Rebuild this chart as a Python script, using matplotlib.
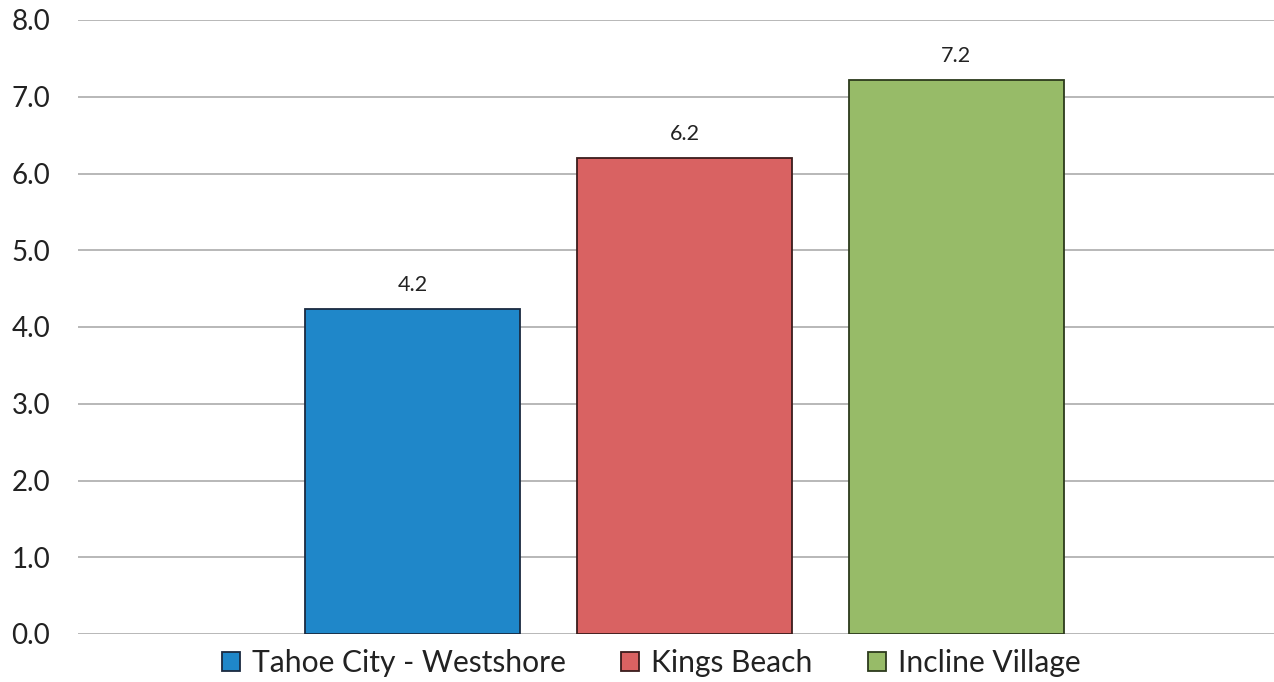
import matplotlib
matplotlib.use("Agg")
import matplotlib.pyplot as plt
from matplotlib.ticker import FixedLocator, FormatStrFormatter

# Data
areas = ["Tahoe City - Westshore", "Kings Beach", "Incline Village"]
values = [4.24, 6.2, 7.22]
colors = ["#1f87c9", "#d96262", "#97bb68"]
edge_colors = ["#1a2a40", "#3a1c1c", "#2c3a1c"]
y_ticks = [0, 1, 2, 3, 4, 5, 6, 7, 8]

plt.rcParams["font.family"] = ["Lato", "DejaVu Sans"]

fig = plt.figure(figsize=(12.74, 6.82), dpi=100)
ax = fig.add_axes([78 / 1274, 1 - 634 / 682, (1274 - 78) / 1274, (634 - 20) / 682])

width = 0.79
handles = []
for i, (name, v, c, ec) in enumerate(zip(areas, values, colors, edge_colors)):
    b = ax.bar(i, v, width=width, color=c, edgecolor=ec, linewidth=1.3, label=name, zorder=3)
    handles.append(b)
    ax.text(i, v + 0.18, f"{v:.1f}", ha="center", va="bottom", fontsize=15.5, color="#222222")

ax.set_ylim(0, 8)
ax.set_xlim(-1.232, 3.169)
ax.yaxis.set_major_locator(FixedLocator(y_ticks))
ax.yaxis.set_major_formatter(FormatStrFormatter("%.1f"))
ax.tick_params(axis="y", length=0, pad=20, labelsize=20, labelcolor="#222222")
ax.set_xticks([])
ax.grid(axis="y", color="#ababab", linewidth=1.2, zorder=0)
for s in ax.spines.values():
    s.set_visible(False)

fig.legend(handles=handles, labels=areas, loc="center", bbox_to_anchor=(0.511, 1 - 663 / 682),
           ncol=3, frameon=False, fontsize=21.6, handlelength=0.6, handleheight=0.6,
           handletextpad=0.4, columnspacing=1.85, labelcolor="#222222")

fig.savefig("out.png", dpi=100, facecolor="white")
